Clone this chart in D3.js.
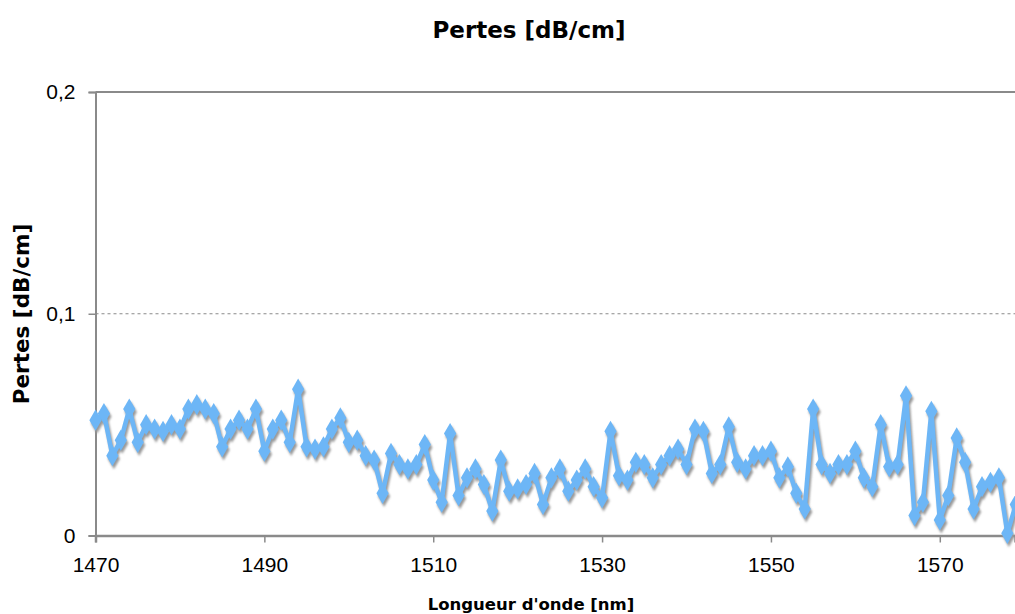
<!DOCTYPE html>
<html>
<head>
<meta charset="utf-8">
<script src="https://cdn.jsdelivr.net/npm/d3@7"></script>
<style>
  html, body { margin: 0; padding: 0; background: #fff; }
  svg { display: block; }
</style>
</head>
<body>
<div id="chart"></div>
<script>
// Wavelengths (nm), one reading per nanometre
const wavelengths = d3.range(1470, 1580);

// Measured losses (dB/cm)
const losses = [
  0.052, 0.055, 0.036, 0.043, 0.057, 0.042, 0.050, 0.048, 0.047, 0.050,
  0.048, 0.057, 0.059, 0.057, 0.055, 0.040, 0.048, 0.052, 0.048, 0.057,
  0.038, 0.048, 0.052, 0.042, 0.066, 0.040, 0.039, 0.040, 0.048, 0.053,
  0.042, 0.043, 0.036, 0.034, 0.019, 0.037, 0.032, 0.030, 0.032, 0.041,
  0.025, 0.015, 0.046, 0.018, 0.026, 0.030, 0.023, 0.011, 0.034, 0.020,
  0.021, 0.023, 0.028, 0.014, 0.026, 0.030, 0.020, 0.025, 0.030, 0.022,
  0.017, 0.047, 0.027, 0.025, 0.033, 0.032, 0.026, 0.032, 0.036, 0.039,
  0.032, 0.048, 0.047, 0.028, 0.032, 0.049, 0.033, 0.030, 0.036, 0.036,
  0.038, 0.026, 0.031, 0.019, 0.012, 0.057, 0.032, 0.028, 0.032, 0.032,
  0.038, 0.026, 0.022, 0.050, 0.031, 0.032, 0.063, 0.009, 0.015, 0.056,
  0.007, 0.018, 0.044, 0.033, 0.012, 0.022, 0.024, 0.026, 0.001, 0.014
];

const xTicks = [1470, 1490, 1510, 1530, 1550, 1570];
const yTicks = [0, 0.1, 0.2];

const chartTitle = "Pertes [dB/cm]";
const xTitle = "Longueur d'onde [nm]";
const yTitle = "Pertes [dB/cm]";

const W = 1015, H = 614;
const margin = { left: 95.5, top: 92, bottom: 78 };
const pxPerNm = 8.443;

const svg = d3.select("#chart").append("svg")
  .attr("width", W).attr("height", H)
  .style("font-family", "'DejaVu Sans', Verdana, sans-serif");

const x = d3.scaleLinear()
  .domain([1470, 1470 + (W - margin.left) / pxPerNm])
  .range([margin.left, W]);
const y = d3.scaleLinear()
  .domain([0, 0.2])
  .range([H - margin.bottom - 0.5, margin.top]);

const axisColor = "#8a8a8a";

// Plot frame: top border at 0.2 and dashed gridline at 0.1
svg.append("line")
  .attr("x1", x(1470)).attr("x2", W)
  .attr("y1", y(0.2)).attr("y2", y(0.2))
  .attr("stroke", axisColor).attr("stroke-width", 2);
svg.append("line")
  .attr("x1", x(1470)).attr("x2", W)
  .attr("y1", y(0.1)).attr("y2", y(0.1))
  .attr("stroke", "#8a8a8a").attr("stroke-width", 1)
  .attr("stroke-dasharray", "3,3");

// Y axis
const yAxis = d3.axisLeft(y).tickValues(yTicks).tickSize(7).tickPadding(13)
  .tickFormat(d => d === 0 ? "0" : d3.format(".1f")(d).replace(".", ","));
const gy = svg.append("g").attr("transform", `translate(${x(1470)},0)`).call(yAxis);
gy.select(".domain").attr("stroke", axisColor).attr("stroke-width", 2);
gy.selectAll(".tick line").attr("stroke", axisColor).attr("stroke-width", 1.5);
gy.selectAll(".tick text").attr("fill", "#000").style("font-size", "21px");

// X axis
const xAxis = d3.axisBottom(x).tickValues(xTicks).tickSize(7).tickPadding(15)
  .tickFormat(d3.format("d"));
const gx = svg.append("g").attr("transform", `translate(0,${y(0)})`).call(xAxis);
gx.select(".domain").attr("stroke", axisColor).attr("stroke-width", 2.5);
gx.selectAll(".tick line").attr("stroke", axisColor).attr("stroke-width", 1.5);
gx.selectAll(".tick text").attr("fill", "#000").style("font-size", "21px");

// Series
const data = wavelengths.map((w, i) => ({ w, v: losses[i] }));
const line = d3.line().x(d => x(d.w)).y(d => y(d.v));
const diamond = d3.symbol().type(d3.symbolDiamond).size(130);

const defs = svg.append("defs");
defs.append("filter").attr("id", "soft")
  .append("feGaussianBlur").attr("stdDeviation", 0.9);
defs.append("clipPath").attr("id", "plotClip")
  .append("rect").attr("x", x(1470) - 10).attr("y", 0)
  .attr("width", W).attr("height", H);

const plot = svg.append("g").attr("clip-path", "url(#plotClip)");

// Drop shadow
const shadow = plot.append("g")
  .attr("transform", "translate(1.5,3)")
  .attr("filter", "url(#soft)");
shadow.append("path").datum(data)
  .attr("d", line).attr("fill", "none")
  .attr("stroke", "#9a9a9a").attr("stroke-width", 4.5).attr("stroke-linejoin", "round");
shadow.selectAll("path.m").data(data).join("path").attr("class", "m")
  .attr("d", diamond)
  .attr("transform", d => `translate(${x(d.w)},${y(d.v)})`)
  .attr("fill", "#9a9a9a");

// Main line and markers
const blue = "#6db6f6";
plot.append("path").datum(data)
  .attr("d", line).attr("fill", "none")
  .attr("stroke", blue).attr("stroke-width", 4.5).attr("stroke-linejoin", "round");
plot.selectAll("path.mk").data(data).join("path").attr("class", "mk")
  .attr("d", diamond)
  .attr("transform", d => `translate(${x(d.w)},${y(d.v)})`)
  .attr("fill", blue);

// Titles
svg.append("text")
  .attr("x", 529).attr("y", 38)
  .attr("text-anchor", "middle")
  .style("font-size", "23px").style("font-weight", "bold")
  .text(chartTitle);
svg.append("text")
  .attr("x", 531).attr("y", 610)
  .attr("text-anchor", "middle")
  .style("font-size", "16.5px").style("font-weight", "bold")
  .text(xTitle);
svg.append("text")
  .attr("transform", "translate(29,314) rotate(-90)")
  .attr("text-anchor", "middle")
  .style("font-size", "21.5px").style("font-weight", "bold")
  .text(yTitle);
</script>
</body>
</html>
